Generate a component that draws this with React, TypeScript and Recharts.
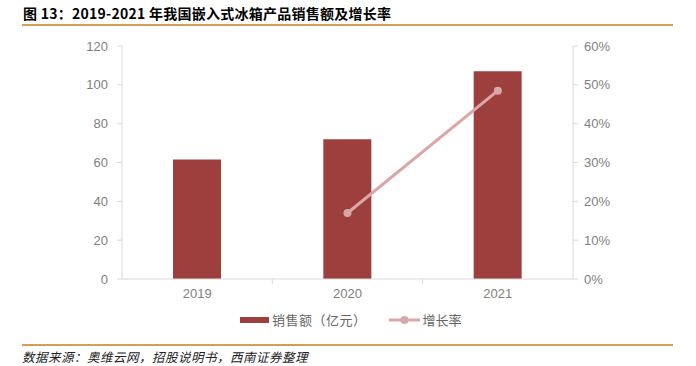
import React from 'react';
import { ComposedChart, Bar, Line, XAxis, YAxis, Legend } from 'recharts';

const years = ['2019', '2020', '2021'];
const salesValues = [61.5, 72, 107];
const growthValues: (number | null)[] = [null, 17, 48.5];
const leftTicks = [0, 20, 40, 60, 80, 100, 120];
const rightTicks = [0, 10, 20, 30, 40, 50, 60];
const salesName = '销售额（亿元）';
const growthName = '增长率';
const titleText = '图 13：2019-2021 年我国嵌入式冰箱产品销售额及增长率';
const sourceText = '数据来源：奥维云网，招股说明书，西南证券整理';

const data = years.map((y, i) => ({ year: y, sales: salesValues[i], growth: growthValues[i] }));

const BAR_COLOR = '#9d403d';
const LINE_COLOR = '#dba7a6';
const AXIS_COLOR = '#d9d9d9';
const TICK_COLOR = '#7f7f7f';
const RULE_COLOR = '#d69e55';
const CJK = '"Noto Sans CJK SC", "Noto Sans", sans-serif';
const LATIN = '"Liberation Sans", Arial, sans-serif';

const HALF_BAND = 75.2;

const XTick = (props: any) => {
  const { x, y, payload, index } = props;
  return (
    <g>
      {index > 0 && (
        <line x1={x - HALF_BAND} x2={x - HALF_BAND} y1={y} y2={y + 5} stroke={AXIS_COLOR} strokeWidth={1} />
      )}
      <text x={x} y={y + 19} textAnchor="middle" fill={TICK_COLOR} fontSize={13} fontFamily={LATIN}>
        {payload.value}
      </text>
    </g>
  );
};

const LegendContent = () => (
  <div
    style={{
      display: 'flex',
      alignItems: 'center',
      fontFamily: CJK,
      fontSize: 13,
      color: '#666',
      height: 20,
    }}
  >
    <svg width={29} height={10} style={{ display: 'block' }}>
      <rect x={0} y={2} width={29} height={6} fill={BAR_COLOR} />
    </svg>
    <span style={{ marginLeft: 3, lineHeight: '20px', letterSpacing: 0.5 }}>{salesName}</span>
    <svg width={31} height={10} style={{ display: 'block', marginLeft: 22 }}>
      <line x1={0} x2={31} y1={5} y2={5} stroke={LINE_COLOR} strokeWidth={3} />
      <circle cx={15.5} cy={5} r={4} fill={LINE_COLOR} />
    </svg>
    <span style={{ marginLeft: 3, lineHeight: '20px' }}>{growthName}</span>
  </div>
);

export default function App() {
  return (
    <div style={{ position: 'absolute', left: 0, top: 0, width: 696, height: 366, background: '#fff', overflow: 'hidden' }}>
      <div
        style={{
          position: 'absolute',
          left: 23,
          top: 3,
          fontFamily: CJK,
          fontWeight: 700,
          fontSize: 14,
          lineHeight: '20px',
          letterSpacing: 0.25,
          color: '#000',
          whiteSpace: 'nowrap',
        }}
      >
        {titleText}
      </div>
      <div style={{ position: 'absolute', left: 22, top: 24, width: 651, height: 2, background: RULE_COLOR }} />
      <ComposedChart
        width={696}
        height={366}
        data={data}
        margin={{ top: 46, right: 0, left: 0, bottom: 37 }}
        barCategoryGap="34%"
      >
        <XAxis
          dataKey="year"
          axisLine={{ stroke: AXIS_COLOR }}
          tickLine={false}
          tickSize={0}
          tickMargin={0}
          height={30}
          tick={<XTick />}
          interval={0}
        />
        <YAxis
          yAxisId="left"
          orientation="left"
          width={122}
          domain={[0, 120]}
          ticks={leftTicks}
          interval={0}
          axisLine={{ stroke: AXIS_COLOR }}
          tickLine={{ stroke: AXIS_COLOR }}
          tickSize={5}
          tickMargin={9}
          tick={{ fill: TICK_COLOR, fontSize: 13, fontFamily: LATIN }}
        />
        <YAxis
          yAxisId="right"
          orientation="right"
          width={123}
          domain={[0, 60]}
          ticks={rightTicks}
          interval={0}
          tickFormatter={(v: number) => `${v}%`}
          axisLine={{ stroke: AXIS_COLOR }}
          tickLine={{ stroke: AXIS_COLOR }}
          tickSize={5}
          tickMargin={6}
          tick={{ fill: TICK_COLOR, fontSize: 13, fontFamily: LATIN }}
        />
        <Legend
          content={<LegendContent />}
          wrapperStyle={{ position: 'absolute', left: 240, top: 310, width: 'auto', height: 20 }}
        />
        <Bar yAxisId="left" dataKey="sales" name={salesName} fill={BAR_COLOR} barSize={48} isAnimationActive={false} />
        <Line
          yAxisId="right"
          dataKey="growth"
          name={growthName}
          stroke={LINE_COLOR}
          strokeWidth={3}
          dot={{ r: 4, fill: LINE_COLOR, stroke: LINE_COLOR, strokeWidth: 0 }}
          activeDot={false}
          isAnimationActive={false}
        />
      </ComposedChart>
      <div style={{ position: 'absolute', left: 22, top: 344, width: 651, height: 2, background: RULE_COLOR }} />
      <div
        style={{
          position: 'absolute',
          left: 22,
          top: 347.5,
          fontFamily: CJK,
          fontStyle: 'italic',
          fontSize: 12.5,
          lineHeight: '18px',
          letterSpacing: 0.5,
          color: '#222',
          whiteSpace: 'nowrap',
        }}
      >
        {sourceText}
      </div>
    </div>
  );
}
